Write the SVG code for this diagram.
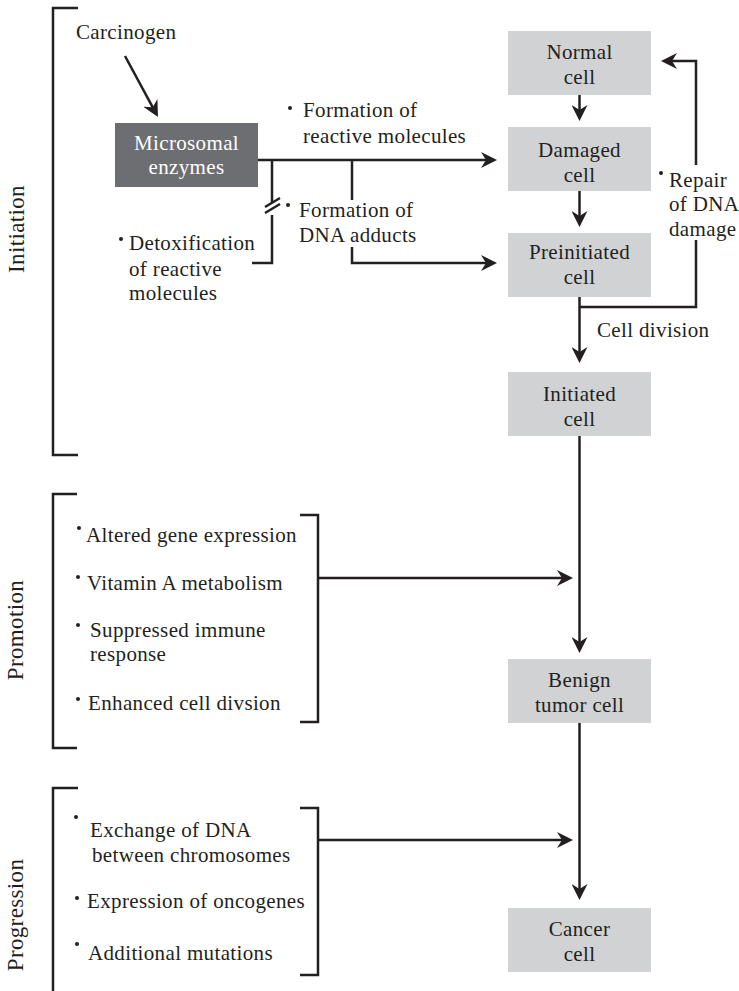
<svg xmlns="http://www.w3.org/2000/svg" width="739" height="991" viewBox="0 0 739 991">
<style>
.t{font-family:"Liberation Serif","Times New Roman",serif;font-size:21px;letter-spacing:0.35px;fill:#231f20}
.c{text-anchor:middle}
.w{fill:#ffffff}
.lab{font-size:23px;text-anchor:middle}
.box{fill:#d1d2d4}
.dbox{fill:#6d6e71}
.ln{fill:none;stroke:#231f20;stroke-width:2.5}
.arr{marker-end:url(#ah)}
.b{fill:#231f20}
</style>
<defs>
<marker id="ah" viewBox="0 0 16 16" refX="11" refY="8" markerWidth="16" markerHeight="16" markerUnits="userSpaceOnUse" orient="auto"><path d="M0,0 L16,8 L0,16 L5,8 z" fill="#231f20"/></marker>
</defs>
<rect width="739" height="991" fill="#ffffff"/>

<g id="brackets">
<path class="ln" d="M78,8 H53 V455 H78"/>
<path class="ln" d="M77,494 H53 V748 H77"/>
<path class="ln" d="M300,515 H318 V722 H300"/>
<path class="ln" d="M78,788 H53 V995"/>
<path class="ln" d="M300,808 H318 V975 H300"/>
</g>

<g id="stage-labels">
<text class="t lab" transform="translate(24,229) rotate(-90)">Initiation</text>
<text class="t lab" transform="translate(23,630) rotate(-90)">Promotion</text>
<text class="t lab" transform="translate(23,915) rotate(-90)">Progression</text>
</g>

<g id="connectors">
<path class="ln arr" d="M125,56 L155.6,112.6"/>
<path class="ln arr" d="M258,160 H492"/>
<path class="ln" d="M272,160 V203 M272,215 V263 H252"/>
<path class="ln" d="M265,207 L280,198 M265,213 L280,204"/>
<path class="ln" d="M352,160 V200"/>
<path class="ln arr" d="M352,247 V263 H492"/>
<path class="ln arr" d="M579.5,95 V116"/>
<path class="ln arr" d="M579.5,191 V222"/>
<path class="ln arr" d="M579.5,297 V358"/>
<path class="ln" d="M579.5,307 H696 V240"/>
<path class="ln arr" d="M696,165 V61 H666"/>
<path class="ln arr" d="M579.5,436 V648"/>
<path class="ln arr" d="M318,578 H568"/>
<path class="ln arr" d="M579.5,723 V895"/>
<path class="ln arr" d="M318,840 H568"/>
</g>

<g id="carcinogen">
<text class="t" x="76" y="39">Carcinogen</text>
</g>

<g id="microsomal">
<rect class="dbox" x="115" y="123" width="143" height="64"/>
<text class="t c w" x="186.5" y="150">Microsomal</text>
<text class="t c w" x="186.5" y="174">enzymes</text>
</g>

<g id="label-reactive">
<circle class="b" cx="290" cy="108" r="2"/>
<text class="t" x="303" y="117">Formation of</text>
<text class="t" x="303" y="143">reactive molecules</text>
</g>

<g id="label-adducts">
<circle class="b" cx="288" cy="205" r="2"/>
<text class="t" x="299" y="217">Formation of</text>
<text class="t" x="299" y="242">DNA adducts</text>
</g>

<g id="label-detox">
<circle class="b" cx="121" cy="239" r="2"/>
<text class="t" x="129" y="250">Detoxification</text>
<text class="t" x="129" y="276">of reactive</text>
<text class="t" x="129" y="300">molecules</text>
</g>

<g id="label-repair">
<circle class="b" cx="661" cy="173" r="2"/>
<text class="t" x="669" y="187">Repair</text>
<text class="t" x="669" y="211">of DNA</text>
<text class="t" x="669" y="236">damage</text>
</g>

<g id="label-division">
<text class="t" x="597" y="337">Cell division</text>
</g>

<g id="normal">
<rect class="box" x="508" y="31" width="143" height="64"/>
<text class="t c" x="579.5" y="59">Normal</text>
<text class="t c" x="579.5" y="84">cell</text>
</g>

<g id="damaged">
<rect class="box" x="508" y="127" width="143" height="64"/>
<text class="t c" x="579.5" y="157">Damaged</text>
<text class="t c" x="579.5" y="182">cell</text>
</g>

<g id="preinitiated">
<rect class="box" x="508" y="233" width="143" height="64"/>
<text class="t c" x="579.5" y="259">Preinitiated</text>
<text class="t c" x="579.5" y="284">cell</text>
</g>

<g id="initiated">
<rect class="box" x="508" y="372" width="143" height="64"/>
<text class="t c" x="579.5" y="401">Initiated</text>
<text class="t c" x="579.5" y="426">cell</text>
</g>

<g id="benign">
<rect class="box" x="508" y="659" width="143" height="64"/>
<text class="t c" x="579.5" y="687">Benign</text>
<text class="t c" x="579.5" y="712">tumor cell</text>
</g>

<g id="cancer">
<rect class="box" x="508" y="908" width="143" height="64"/>
<text class="t c" x="579.5" y="936">Cancer</text>
<text class="t c" x="579.5" y="961">cell</text>
</g>

<g id="promotion-factors">
<circle class="b" cx="79" cy="528" r="2"/>
<text class="t" x="86" y="542">Altered gene expression</text>
<circle class="b" cx="78" cy="577" r="2"/>
<text class="t" x="87" y="590">Vitamin A metabolism</text>
<circle class="b" cx="78" cy="625" r="2"/>
<text class="t" x="90" y="637">Suppressed immune</text>
<text class="t" x="90" y="661">response</text>
<circle class="b" cx="78" cy="699" r="2"/>
<text class="t" x="88" y="710">Enhanced cell divsion</text>
</g>

<g id="progression-factors">
<circle class="b" cx="76" cy="817" r="2"/>
<text class="t" x="90" y="837">Exchange of DNA</text>
<text class="t" x="92" y="862">between chromosomes</text>
<circle class="b" cx="77" cy="898" r="2"/>
<text class="t" x="87" y="908">Expression of oncogenes</text>
<circle class="b" cx="77" cy="944" r="2"/>
<text class="t" x="88" y="960">Additional mutations</text>
</g>
</svg>
